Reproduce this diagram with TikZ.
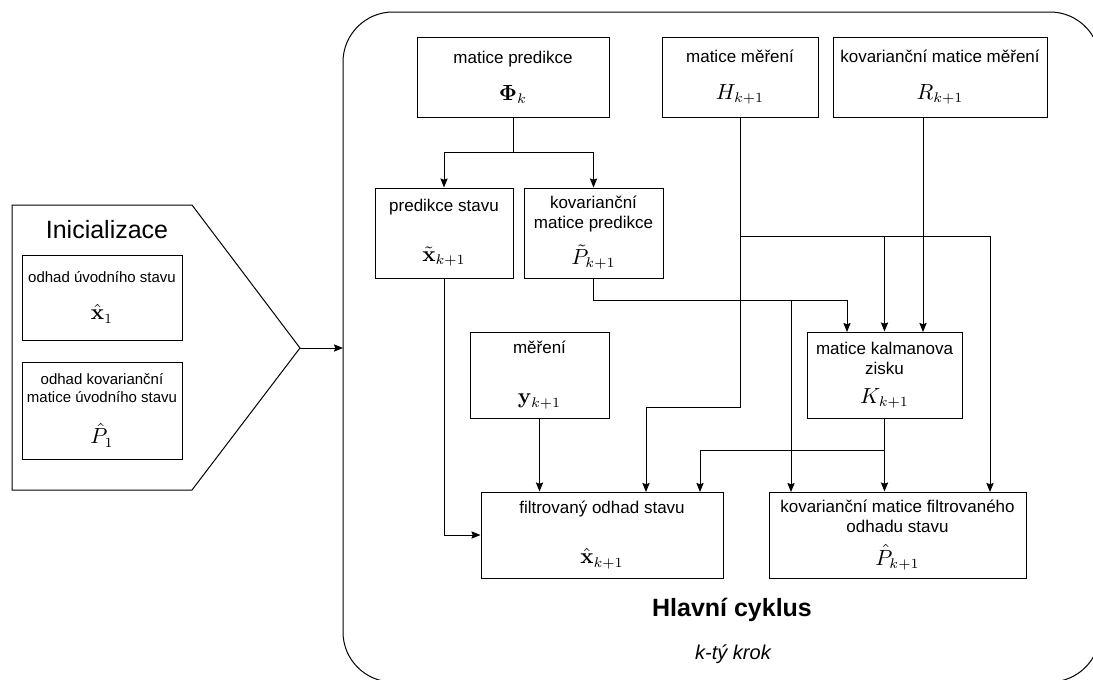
\documentclass[tikz,border=0pt]{standalone}
\usepackage{amsmath,amssymb}
\usepackage[no-math]{fontspec}
\setmainfont{Liberation Sans}
\usetikzlibrary{arrows.meta}

\newcommand{\vel}[1]{{\fontsize{10.5}{12}\selectfont$#1$}}

\begin{document}
\begin{tikzpicture}[x=0.5pt,y=-0.5pt,
    blok/.style={draw, line width=0.5pt, align=center, inner sep=0pt,
      font=\fontsize{8.5}{10}\selectfont},
    rozmer/.style 2 args={minimum width=#1*0.5pt, minimum height=#2*0.5pt},
    sip/.style={-{Stealth[length=4.5pt,width=3.6pt,inset=0.6pt]}, line width=0.5pt},
    spoj/.style={line width=0.5pt}]
              \useasboundingbox (0,0) rectangle (1093,680);
              %\draw[help lines](0,0) grid (1093,680);

              % inicializace
              \draw[spoj] (12,205) -- (192,205) -- (300,348) -- (192,490) -- (12,490) -- cycle;
              \coordinate (hrot) at (300,348);
              \draw (107,230) node[font=\fontsize{12.5}{15}\selectfont] (init) {Inicializace};
              \draw (102,297.5) node[blok, rozmer={160}{85}, font=\fontsize{7.5}{9}\selectfont] (x1) {odhad úvodního stavu\\[9.5pt]\vel{\hat{\mathbf{x}}_1}};
              \draw (102,410.5) node[blok, rozmer={160}{97}, font=\fontsize{7.5}{9}\selectfont] (P1) {odhad kovarianční\\matice úvodního stavu\\[9pt]\vel{\hat{P}_1}};

              % hlavni cyklus
              \draw[spoj, rounded corners=25pt] (343,12) rectangle (1100,682);
              \coordinate (vstup) at (343,348);
              \draw[sip] (hrot) -- (vstup);

              \draw (513,77) node[blok, rozmer={192}{80}] (phi) {matice predikce\\[8.5pt]\vel{\mathbf{\Phi}_k}};
              \draw (740,77) node[blok, rozmer={156}{80}] (H) {matice měření\\[8.5pt]\vel{H_{k+1}}};
              \draw (940,77) node[blok, rozmer={214}{80}] (R) {kovarianční matice měření\\[8.5pt]\vel{R_{k+1}}};
              \draw (444,233) node[blok, rozmer={138}{90}] (xpred) {predikce stavu\\[15pt]\vel{\tilde{\mathbf{x}}_{k+1}}};
              \draw (593.5,233) node[blok, rozmer={139}{90}] (Ppred) {kovarianční\\matice predikce\\[5pt]\vel{\tilde{P}_{k+1}}};
              \draw (539.5,375) node[blok, rozmer={139}{86}] (ymer) {měření\\[15pt]\vel{\mathbf{y}_{k+1}}};
              \draw (884.5,375) node[blok, rozmer={155}{86}] (K) {matice kalmanova\\zisku\\[4.5pt]\vel{K_{k+1}}};
              \draw (602,535) node[blok, rozmer={242}{86}] (xfilt) {filtrovaný odhad stavu\\[15pt]\vel{\hat{\mathbf{x}}_{k+1}}};
              \draw (897.5,535) node[blok, rozmer={257}{86}] (Pfilt) {kovarianční matice filtrovaného\\odhadu stavu\\[5pt]\vel{\hat{P}_{k+1}}};

              \draw (732,610) node[font=\bfseries\fontsize{12.5}{15}\selectfont] (hlavni) {Hlavní cyklus};
              \draw (733,654) node[font=\itshape\fontsize{10}{12}\selectfont] (krok) {k-tý krok};

              % vstupy do bloku
              \coordinate (kP) at (847,332);
              \coordinate (kR) at (923,332);
              \coordinate (pP) at (791,492);
              \coordinate (pH) at (990,492);
              \coordinate (fH) at (646,492);
              \coordinate (fK) at (700,492);
              \coordinate (pJ) at (791,300);
              \coordinate (hJ) at (740,236);

              \draw[sip] (phi.south) -- ++(0,35) -| (xpred.north);
              \draw[sip] (phi.south) -- ++(0,35) -| (Ppred.north);

              \draw[sip] (xpred.south) |- (xfilt.west);

              \draw[spoj] (Ppred.south) |- (pJ);
              \draw[sip] (pJ) -| (kP);
              \draw[sip] (pJ) -- (pP);

              \draw[sip] (H.south) |- (646,407) -- (fH);
              \draw[sip] (hJ) -| (K.north);
              \draw[sip] (hJ) -| (pH);

              \draw[sip] (R.south -| kR) -- (kR);

              \draw[sip] (ymer.south) -- (ymer.south |- xfilt.north);

              \draw[sip] (K.south) -- (K.south |- Pfilt.north);
              \draw[sip] (K.south) -- ++(0,32) -| (fK);
            \end{tikzpicture}
\end{document}
